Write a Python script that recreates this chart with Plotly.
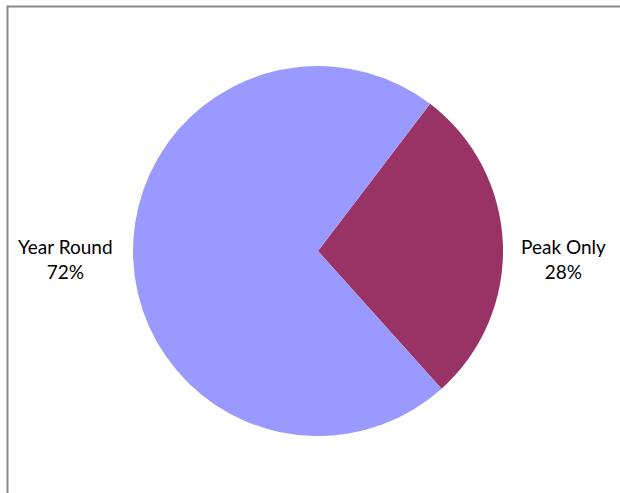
import plotly.graph_objects as go

labels = ["Peak Only", "Year Round"]
values = [28, 72]
colors = ["#993366", "#9999FF"]

W, H = 620, 493
cx, cy, r = 318, 251, 185

fig = go.Figure(go.Pie(
    labels=labels, values=values,
    marker=dict(colors=colors, line=dict(width=0)),
    sort=False, direction="clockwise", rotation=37.3,
    textinfo="none", hoverinfo="label+percent", showlegend=False,
    domain=dict(x=[(cx - r) / W, (cx + r) / W],
                y=[(H - cy - r) / H, (H - cy + r) / H]),
))

total = sum(values)
label_pos = {"Peak Only": (563, 259), "Year Round": (65, 259)}
annotations = []
for lab, val in zip(labels, values):
    px, py = label_pos[lab]
    annotations.append(dict(
        x=px / W, y=1 - py / H, xref="paper", yref="paper",
        text=f"{lab}<br>{round(100 * val / total)}%", showarrow=False,
        font=dict(family="Lato", size=19, color="#000000"),
        align="center", xanchor="center", yanchor="middle"))

fig.update_layout(
    width=W, height=H, margin=dict(l=0, r=0, t=0, b=0),
    paper_bgcolor="white", plot_bgcolor="white",
    annotations=annotations,
    shapes=[dict(type="path", xref="paper", yref="paper",
                 path=f"M {7.5/W} 0 L {7.5/W} {1-6.5/H} L 1 {1-6.5/H}",
                 line=dict(color="#878787", width=2))],
)
fig.write_html("out.html")
